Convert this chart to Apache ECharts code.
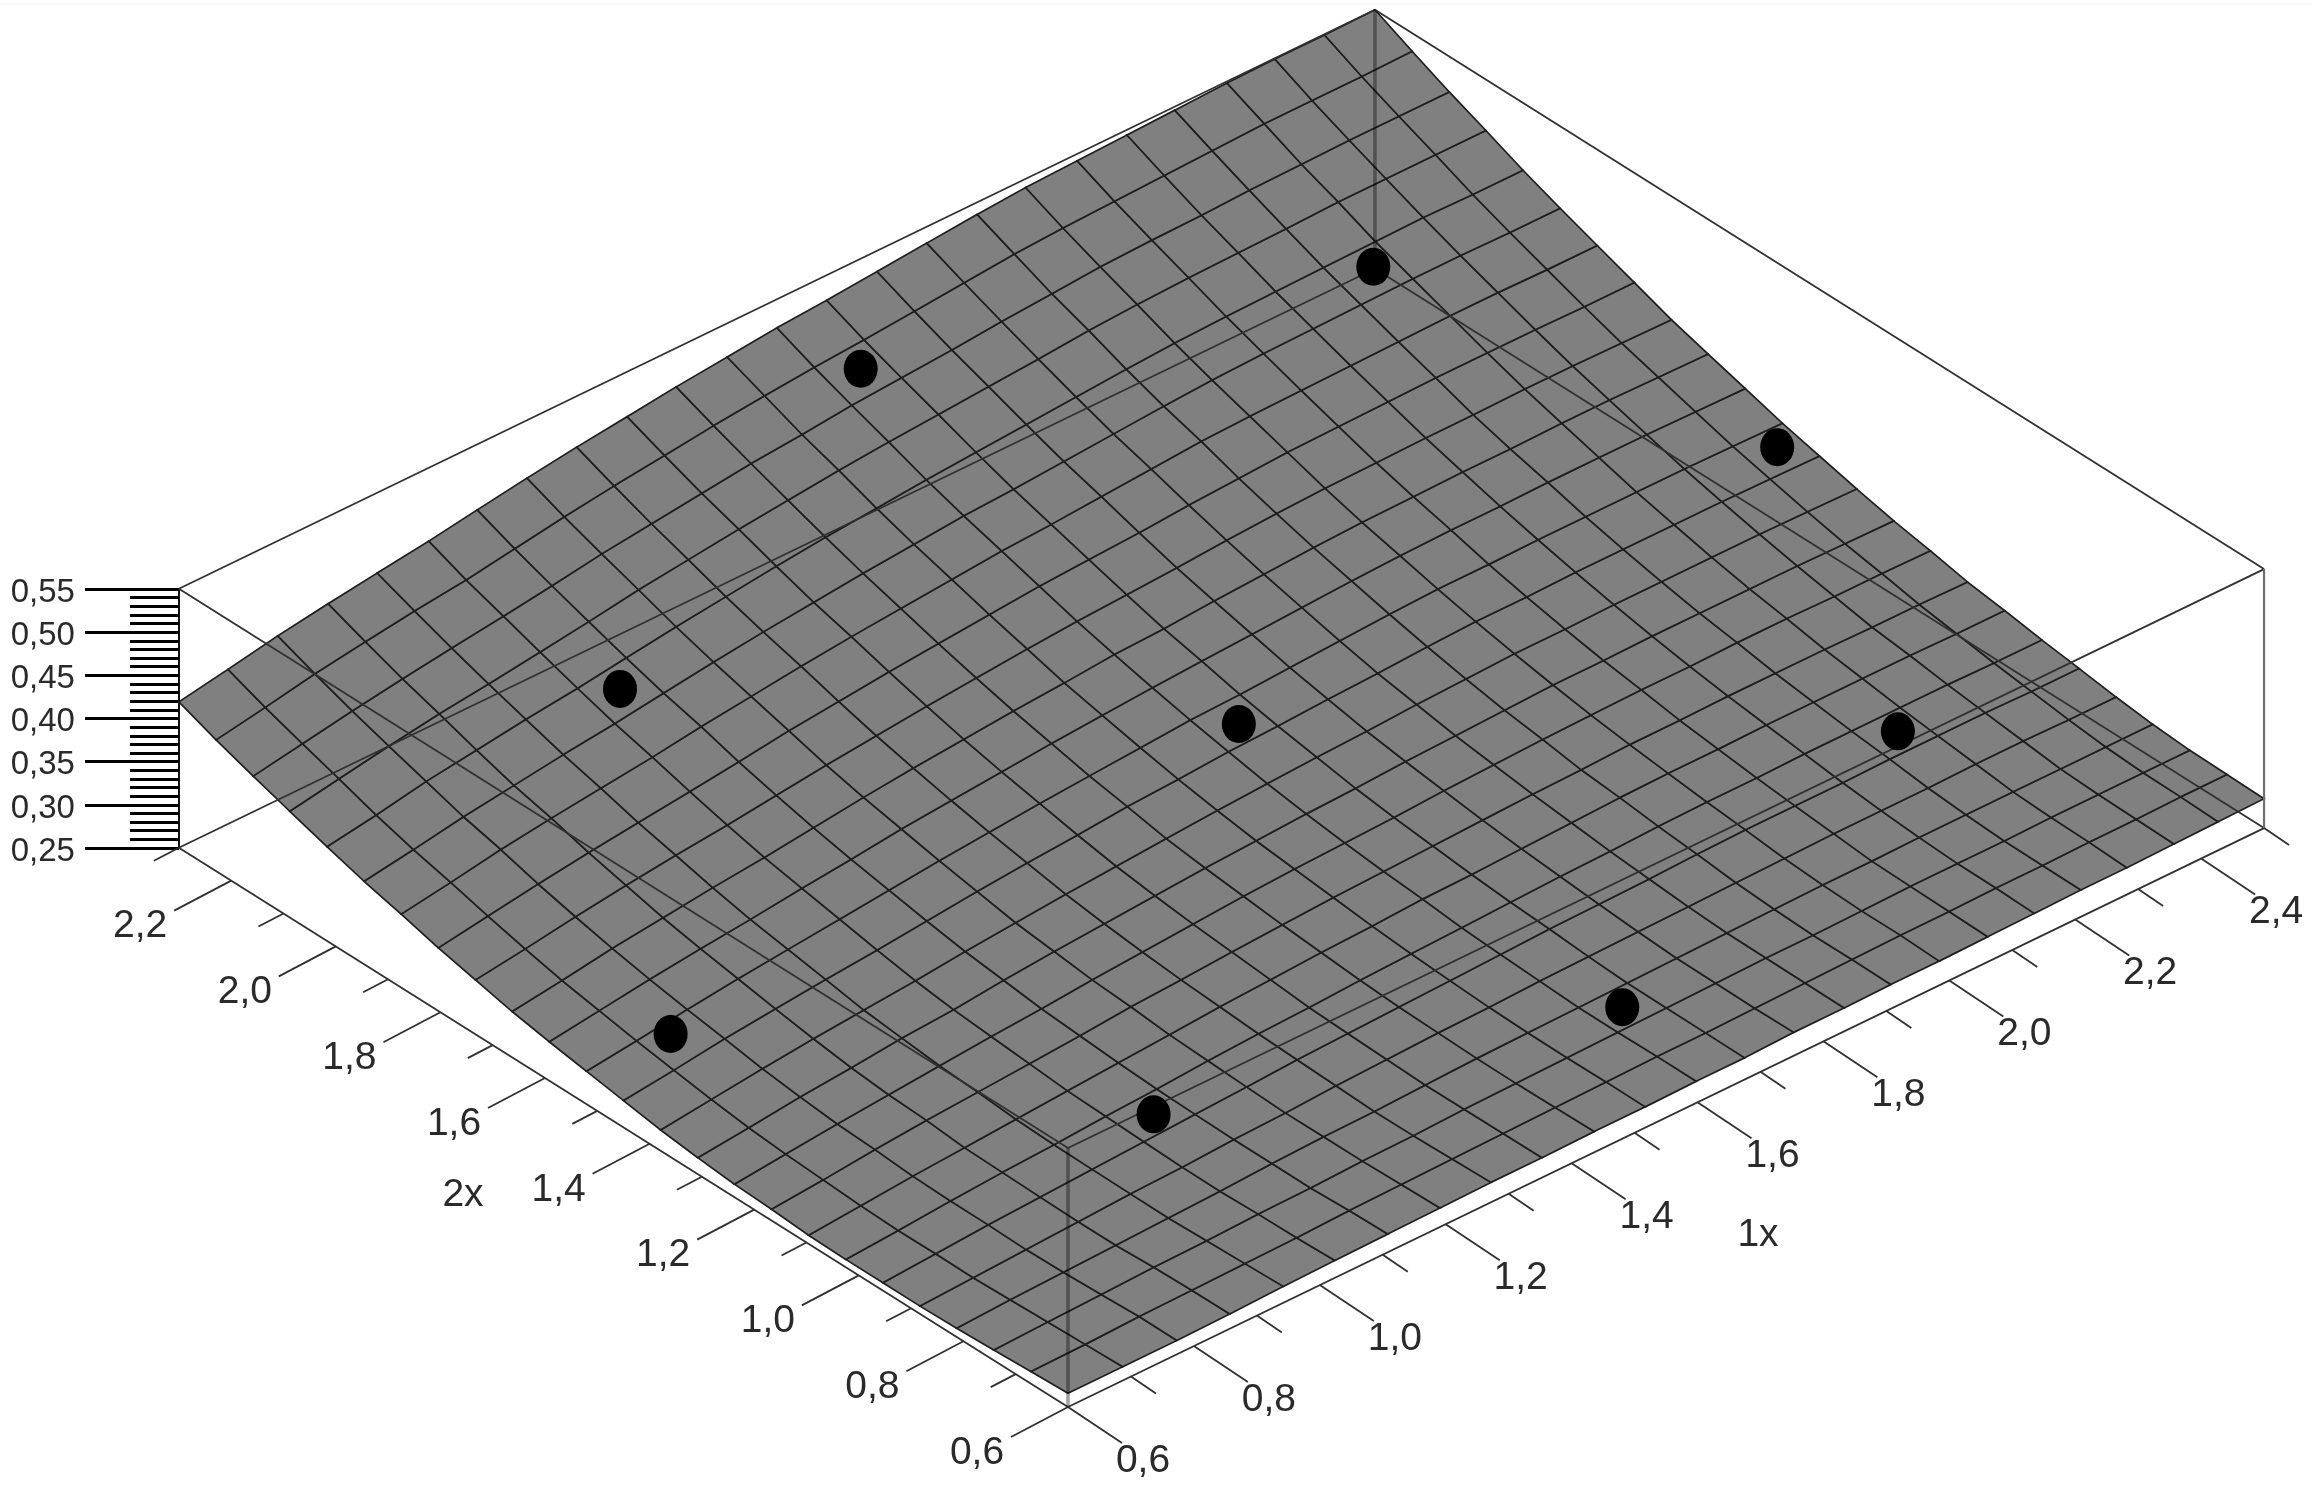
<!DOCTYPE html>
<html>
<head>
<meta charset="utf-8">
<title>Surface</title>
<script src="https://cdn.jsdelivr.net/npm/echarts@6/dist/echarts.min.js"></script>
<style>
html, body { margin: 0; padding: 0; background: #fff; }
#chart { width: 2312px; height: 1491px; filter: blur(0.6px); }
</style>
</head>
<body>
<div id="chart"></div>
<script>
// mesh line positions read along the front and the back edge of the surface
const x1Front = [0.6, 0.687, 0.773, 0.857, 0.942, 1.024, 1.108, 1.191, 1.272, 1.353, 1.436, 1.517, 1.598, 1.675, 1.753, 1.833, 1.907, 1.984, 2.061, 2.135, 2.209, 2.282, 2.357, 2.427, 2.5];
const x1Back = [0.6, 0.678, 0.757, 0.837, 0.915, 0.997, 1.074, 1.153, 1.232, 1.312, 1.39, 1.471, 1.55, 1.629, 1.709, 1.788, 1.868, 1.945, 2.027, 2.106, 2.182, 2.265, 2.341, 2.42, 2.5];
const x2Grid = [0.6, 0.671, 0.742, 0.813, 0.883, 0.954, 1.025, 1.096, 1.167, 1.238, 1.308, 1.379, 1.45, 1.521, 1.592, 1.663, 1.733, 1.804, 1.875, 1.946, 2.017, 2.088, 2.158, 2.229, 2.3];
// how far each mesh row has moved from the front positions to the back ones
const x1Shift = [0, 0.07, 0.14, 0.21, 0.28, 0.35, 0.41, 0.47, 0.53, 0.59, 0.65, 0.71, 0.77, 0.8, 0.83, 0.86, 0.88, 0.9, 0.92, 0.94, 0.955, 0.97, 0.98, 0.99, 1];

// surface height in thousandths, one row per x2Grid value
const zRows = [
    [266,266,266,267,269,270,271,272,273,273,274,274,275,275,277,277,278,278,279,280,281,281,282,283,284],
    [264,265,267,268,269,270,272,273,274,275,276,277,278,278,279,280,281,282,282,283,283,284,284,285,285],
    [262,264,266,268,269,271,272,274,275,277,278,279,280,281,282,283,283,284,285,285,285,286,286,286,286],
    [260,263,265,267,269,271,274,276,277,279,281,282,283,284,285,286,287,288,288,289,289,289,289,289,289],
    [259,262,265,268,271,273,276,278,281,283,285,286,288,289,290,291,292,293,294,294,294,295,295,294,294],
    [259,263,267,270,273,276,279,282,285,287,289,291,293,295,296,297,299,300,300,300,301,301,301,300,300],
    [259,263,268,272,275,279,282,286,289,291,294,296,298,300,302,303,305,306,306,307,307,307,307,306,306],
    [260,265,270,274,278,282,286,290,294,297,300,302,305,306,308,310,312,313,313,314,314,314,314,313,313],
    [263,268,274,279,283,287,291,296,299,303,306,309,311,313,315,317,318,320,320,321,321,321,320,320,319],
    [265,271,277,282,287,292,296,301,305,309,313,316,318,320,323,325,327,328,329,329,330,330,329,329,328],
    [269,275,282,287,293,297,303,308,312,316,320,323,326,328,331,333,335,337,337,338,338,338,338,337,336],
    [274,281,288,294,299,304,310,315,320,324,328,332,335,338,340,343,345,347,347,348,348,348,348,347,346],
    [281,288,296,302,308,313,319,325,330,334,339,342,346,348,351,353,356,358,358,359,359,359,359,358,357],
    [288,295,303,310,316,322,328,334,339,344,348,352,356,358,361,364,367,369,369,370,370,370,370,369,368],
    [295,303,311,318,324,331,337,344,349,354,359,363,367,370,373,376,379,381,382,382,383,383,383,382,381],
    [303,311,320,327,334,340,347,354,360,365,370,374,379,381,385,388,391,393,394,395,395,396,396,395,394],
    [313,321,330,338,345,351,358,365,371,377,382,387,391,394,397,401,404,406,407,408,408,409,409,408,407],
    [323,332,341,349,356,363,370,378,384,390,395,400,405,408,411,415,418,421,422,423,424,424,424,423,423],
    [335,344,354,362,369,376,384,391,398,404,409,414,419,422,426,430,434,436,437,438,439,440,440,439,439],
    [346,355,365,373,381,388,396,404,411,417,423,428,433,436,440,444,448,451,453,454,455,456,456,455,455],
    [359,368,379,387,395,402,410,418,425,432,438,443,448,452,456,460,464,467,469,470,471,472,473,472,472],
    [373,383,393,402,409,417,425,434,441,448,454,460,465,469,473,477,482,485,487,488,489,491,491,491,491],
    [387,397,407,416,424,432,440,449,456,463,470,475,481,485,489,494,498,502,504,505,507,508,509,509,509],
    [402,412,423,432,440,447,456,465,473,480,487,493,498,502,507,512,517,520,522,524,526,528,528,528,529],
    [419,429,440,449,457,465,474,483,491,498,505,511,517,521,526,531,536,540,542,544,546,548,549,549,550]
];

// measured points
const dotX1 = [1.6, 2.239, 1.6, 2.471, 1.044, 0.719, 1.06, 1.63, 2.244];
const dotX2 = [1.477, 1.989, 2.2, 1.496, 1.991, 1.503, 0.99, 0.78, 0.992];
const dotZ = [0.354, 0.463, 0.49, 0.36, 0.395, 0.296, 0.278, 0.281, 0.303];

const x1Ticks = [0.6, 0.7, 0.8, 0.9, 1.0, 1.1, 1.2, 1.3, 1.4, 1.5, 1.6, 1.7, 1.8, 1.9, 2.0, 2.1, 2.2, 2.3, 2.4, 2.5];
const x2Ticks = [0.6, 0.7, 0.8, 0.9, 1.0, 1.1, 1.2, 1.3, 1.4, 1.5, 1.6, 1.7, 1.8, 1.9, 2.0, 2.1, 2.2, 2.3];
const zTicks = [0.25, 0.3, 0.35, 0.4, 0.45, 0.5, 0.55];
const x1Labels = ['0,6', '0,8', '1,0', '1,2', '1,4', '1,6', '1,8', '2,0', '2,2', '2,4'];
const x2Labels = ['0,6', '0,8', '1,0', '1,2', '1,4', '1,6', '1,8', '2,0', '2,2'];
const zLabels = ['0,25', '0,30', '0,35', '0,40', '0,45', '0,50', '0,55'];

const X1_MIN = 0.6, X1_MAX = 2.5, X2_MIN = 0.6, X2_MAX = 2.3, Z_MIN = 0.25, Z_MAX = 0.55;
const FONT = '"Liberation Sans", Arial, sans-serif';
const INK = '#2a2a2a';

// fixed oblique view of the x1, x2, z box on the page
function project(x1, x2, z) {
    return [
        1068 + 629.5 * (x1 - X1_MIN) - 523 * (x2 - X2_MIN),
        1407 - 304.7 * (x1 - X1_MIN) - 329 * (x2 - X2_MIN) - 863.3 * (z - Z_MIN)
    ];
}

function meshPoint(i, j) {
    const x1 = x1Front[i] + (x1Back[i] - x1Front[i]) * x1Shift[j];
    return project(x1, x2Grid[j], zRows[j][i] / 1000);
}

function lineItem(api, a, b, style) {
    const p = api.coord(a), q = api.coord(b);
    return {
        type: 'line',
        shape: { x1: p[0], y1: p[1], x2: q[0], y2: q[1] },
        style: style
    };
}

const cells = [];
for (let j = 0; j < x2Grid.length - 1; j++) {
    for (let i = 0; i < x1Front.length - 1; i++) {
        cells.push([i, j]);
    }
}

const thin = { stroke: '#303030', lineWidth: 1.8, fill: null };
const post = { stroke: 'rgba(0,0,0,0.36)', lineWidth: 3.6, fill: null };
const boxEdges = [
    [X1_MIN, X2_MIN, Z_MIN, X1_MAX, X2_MIN, Z_MIN, thin],
    [X1_MIN, X2_MIN, Z_MIN, X1_MIN, X2_MAX, Z_MIN, thin],
    [X1_MAX, X2_MIN, Z_MIN, X1_MAX, X2_MAX, Z_MIN, thin],
    [X1_MIN, X2_MAX, Z_MIN, X1_MAX, X2_MAX, Z_MIN, thin],
    [X1_MIN, X2_MIN, Z_MAX, X1_MAX, X2_MIN, Z_MAX, thin],
    [X1_MIN, X2_MIN, Z_MAX, X1_MIN, X2_MAX, Z_MAX, thin],
    [X1_MAX, X2_MIN, Z_MAX, X1_MAX, X2_MAX, Z_MAX, thin],
    [X1_MIN, X2_MAX, Z_MAX, X1_MAX, X2_MAX, Z_MAX, thin],
    [X1_MIN, X2_MIN, Z_MIN, X1_MIN, X2_MIN, Z_MAX, post],
    [X1_MAX, X2_MAX, Z_MIN, X1_MAX, X2_MAX, Z_MAX, post],
    [X1_MAX, X2_MIN, Z_MIN, X1_MAX, X2_MIN, Z_MAX, { stroke: '#707070', lineWidth: 2.2, fill: null }]
];

// ticks and labels on the two floor axes, labels of the z axis
const floorMarks = [];
x1Ticks.forEach(function (v, k) {
    const major = k % 2 === 0;
    const base = project(v, X2_MIN, Z_MIN);
    floorMarks.push({ base: base, dx: major ? 54 : 25, dy: major ? 36 : 17 });
    if (major && x1Labels[k / 2]) {
        floorMarks.push({ base: base, dx: 75, dy: 54, text: x1Labels[k / 2] });
    }
});
x2Ticks.forEach(function (v, k) {
    const major = k % 2 === 0;
    const base = project(X1_MIN, v, Z_MIN);
    floorMarks.push({ base: base, dx: major ? -57 : -25, dy: major ? 30 : 13 });
    if (major && x2Labels[k / 2]) {
        floorMarks.push({ base: base, dx: -91, dy: 46, text: x2Labels[k / 2] });
    }
});
zTicks.forEach(function (v, k) {
    floorMarks.push({ base: project(X1_MIN, X2_MAX, v), dx: -104, dy: 4, text: zLabels[k], size: 33, align: 'right' });
});
floorMarks.push({ base: [1758, 1235], dx: 0, dy: 0, text: '1x' });
floorMarks.push({ base: [463, 1195], dx: 0, dy: 0, text: '2x' });

const chart = echarts.init(document.getElementById('chart'), null, { renderer: 'canvas' });
const option = {
    animation: false,
    backgroundColor: '#fff',
    graphic: [{
        type: 'line',
        silent: true,
        shape: { x1: 0, y1: 4, x2: 2312, y2: 4 },
        style: { stroke: '#eeeeee', lineWidth: 1 }
    }],
    grid: [
        { left: 0, right: 0, top: 0, bottom: 0, show: false },
        { left: 179, top: 589, width: 1, height: 259, show: false }
    ],
    xAxis: [
        { gridIndex: 0, type: 'value', min: 0, max: 2312, show: false },
        { gridIndex: 1, type: 'value', min: 0, max: 1, show: false }
    ],
    yAxis: [
        { gridIndex: 0, type: 'value', min: 0, max: 1491, inverse: true, show: false },
        {
            gridIndex: 1,
            type: 'value',
            min: Z_MIN,
            max: Z_MAX,
            interval: 0.05,
            position: 'left',
            splitLine: { show: false },
            axisLine: { show: true, lineStyle: { color: '#111', width: 2 } },
            axisTick: { show: true, length: 94, lineStyle: { color: '#000', width: 2.8 } },
            minorTick: { show: true, splitNumber: 5, length: 49, lineStyle: { color: '#000', width: 2.8 } },
            axisLabel: { show: false }
        }
    ],
    series: [
        {
            type: 'custom',
            coordinateSystem: 'cartesian2d',
            silent: true,
            data: cells,
            renderItem: function (params, api) {
                const i = cells[params.dataIndex][0], j = cells[params.dataIndex][1];
                const pts = [meshPoint(i, j), meshPoint(i + 1, j), meshPoint(i + 1, j + 1), meshPoint(i, j + 1)];
                return {
                    type: 'polygon',
                    shape: { points: pts.map(function (p) { return api.coord(p); }) },
                    style: { fill: '#808080', stroke: '#1e1e1e', lineWidth: 1.7 }
                };
            },
            z: 2
        },
        {
            type: 'custom',
            coordinateSystem: 'cartesian2d',
            silent: true,
            data: boxEdges.map(function (e, k) { return [k]; }),
            renderItem: function (params, api) {
                const e = boxEdges[params.dataIndex];
                return lineItem(api, project(e[0], e[1], e[2]), project(e[3], e[4], e[5]), e[6]);
            },
            z: 3
        },
        {
            type: 'custom',
            coordinateSystem: 'cartesian2d',
            silent: true,
            data: floorMarks.map(function (m, k) { return [k]; }),
            renderItem: function (params, api) {
                const m = floorMarks[params.dataIndex];
                const end = [m.base[0] + m.dx, m.base[1] + m.dy];
                if (m.text) {
                    const p = api.coord(end);
                    return {
                        type: 'text',
                        style: {
                            x: p[0], y: p[1], text: m.text, fill: INK,
                            font: (m.size || 39) + 'px ' + FONT,
                            align: m.align || 'center', verticalAlign: 'middle'
                        }
                    };
                }
                return lineItem(api, m.base, end, thin);
            },
            z: 3
        },
        {
            type: 'scatter',
            coordinateSystem: 'cartesian2d',
            silent: true,
            symbol: 'circle',
            symbolSize: [34, 38],
            itemStyle: { color: '#000', opacity: 1 },
            data: dotX1.map(function (v, k) { return project(v, dotX2[k], dotZ[k]); }),
            z: 4
        }
    ]
};
chart.setOption(option);
</script>
</body>
</html>
